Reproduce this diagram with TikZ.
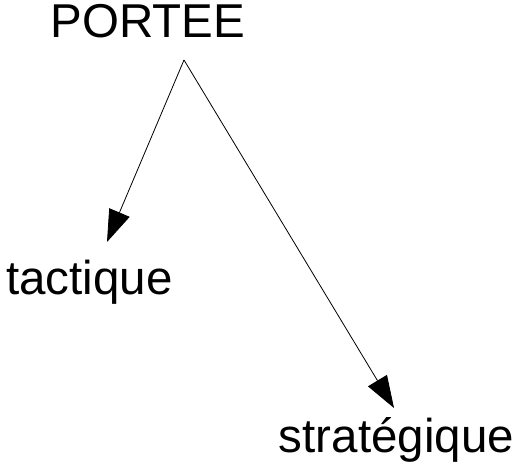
\documentclass[tikz,border=0pt]{standalone}
\usepackage{fontspec}
\setmainfont{Liberation Sans}
\usetikzlibrary{positioning}
\usetikzlibrary{arrows.meta}

\tikzset{
	every node/.style = {font=\fontsize{47.5}{52}\selectfont, inner sep=0pt}
}
\tikzset{
	fleche/.style = {line width=0.8pt, -{Triangle[length=32pt,width=22pt]}}
}

\begin{document}
\begin{tikzpicture}[x=1pt,y=-1pt]
        \useasboundingbox (0,0) rectangle (515,470);

        % Titre et les deux branches
        \node[anchor=base] (portee) at (148,38) {PORTEE};
        \node[anchor=base] (tactique) at (89.5,295) {tactique};
        \node[anchor=base] (strategique) at (396.5,453) {stratégique};

        % Points de depart et d'arrivee des fleches
        \coordinate (sommet) at (184,60);
        \coordinate (bout tactique) at (107,242);
        \coordinate (bout strategique) at (394,408);

        \draw[fleche] (sommet) -- (bout tactique);
        \draw[fleche] (sommet) -- (bout strategique);
    \end{tikzpicture}
\end{document}
